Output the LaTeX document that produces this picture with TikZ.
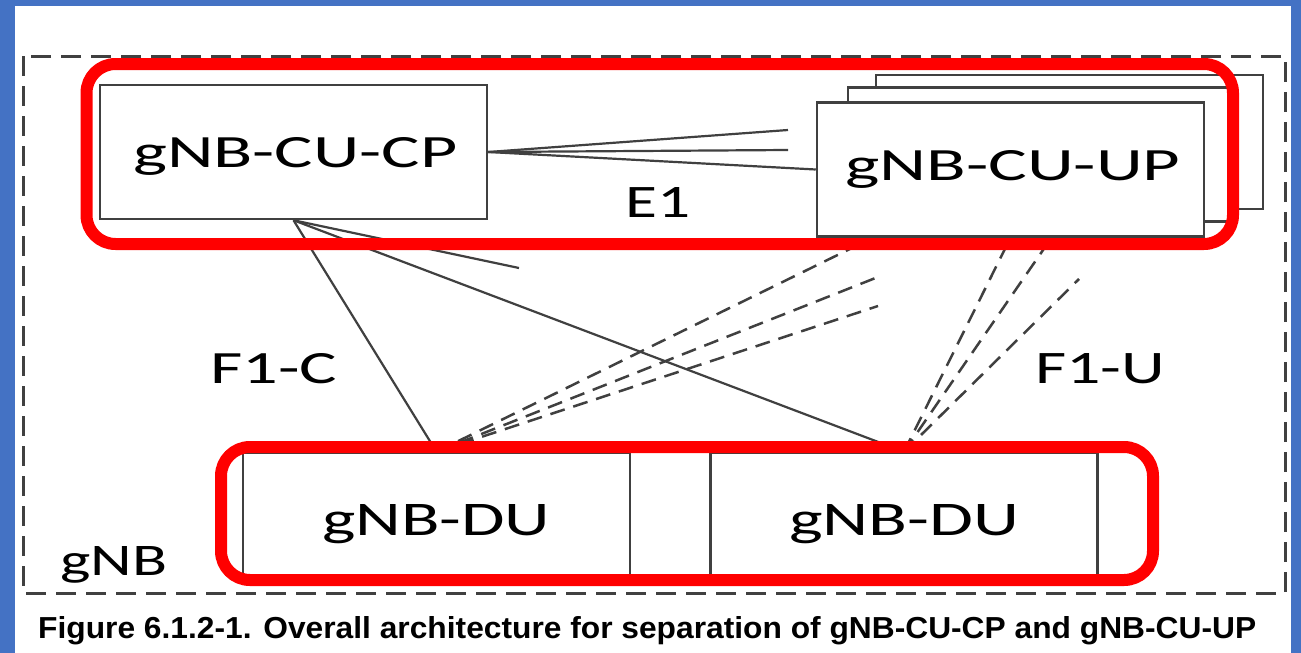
\documentclass[tikz,border=0pt]{standalone}
\usepackage{fontspec}
\usepackage{graphicx}
\setmainfont{Carlito}
\newfontfamily\capfont{Liberation Sans}
\usetikzlibrary{calc}
\definecolor{frameblue}{RGB}{68,114,196}
\definecolor{linegray}{RGB}{64,64,64}
\definecolor{hlred}{RGB}{255,0,0}
\tikzset{
  unitbox/.style={draw=linegray, line width=2.5pt, fill=white, minimum width=387pt, minimum height=134pt, inner sep=0pt},
  dubox/.style={draw=linegray, line width=2.5pt, fill=white, minimum width=387pt, minimum height=122pt, inner sep=0pt},
  link/.style={draw=linegray, line width=2.2pt},
  ulink/.style={draw=linegray, line width=2.5pt, dash pattern=on 15pt off 9pt},
  hlframe/.style={draw=hlred, line width=12pt, rounded corners=29pt},
  gnbframe/.style={draw=linegray, line width=3pt, dash pattern=on 20pt off 10pt},
  lbl/.style={inner sep=0pt, anchor=base west}
}
\begin{document}
\begin{tikzpicture}[x=1pt,y=-1pt]
\useasboundingbox (0,0) rectangle (1301,653);
\fill[white] (0,0) rectangle (1301,653);
% blue frame
\fill[frameblue] (0,0) rectangle (15,653);
\fill[frameblue] (0,0) rectangle (1301,6);
\fill[frameblue] (1291,0) rectangle (1301,653);
% gNB dashed boundary
\draw[gnbframe] (23,56) rectangle (1285,593);
% boxes
\node[unitbox] (cp) at (293.5,152) {};
\node[unitbox] (up3) at (1069.5,142) {};
\node[unitbox] (up2) at (1041.5,154.5) {};
\node[unitbox] (up) at (1010.5,169.5) {};
\node[dubox] (du1) at (436.5,514) {};
\node[dubox] (du2) at (904,514) {};
% free ends
\coordinate (e1a) at (788,130);
\coordinate (e1b) at (788,150);
\coordinate (f1cs) at (519,268);
\coordinate (u1a) at ($(up.south west)+(57,0)$);
\coordinate (u1b) at (878,277);
\coordinate (u1c) at (878,306);
\coordinate (u2b) at ($(up.south)+(41,0)$);
\coordinate (u2c) at (1079,279);
% E1
\draw[link] (cp.east) -- (e1a);
\draw[link] (cp.east) -- (e1b);
\draw[link] (cp.east) -- (up.west);
% F1-C
\draw[link] (cp.south) -- (du1.north);
\draw[link] (cp.south) -- (f1cs);
\draw[link] (cp.south) -- (du2.north);
% F1-U
\draw[ulink] (du1.north) -- (u1a);
\draw[ulink] (du1.north) -- (u1b);
\draw[ulink] (du1.north) -- (u1c);
\draw[ulink] (du2.north) -- (up.south);
\draw[ulink] (du2.north) -- (u2b);
\draw[ulink] (du2.north) -- (u2c);
% highlight frames
\draw[hlframe] (86.5,64) rectangle (1233,244);
\draw[hlframe] (221,447) rectangle (1153,580);
% texts
\node[lbl] (tcp) at (133,167) {\resizebox{324pt}{30pt}{gNB-CU-CP}};
\node[lbl] (tup) at (845,180) {\resizebox{335pt}{30pt}{gNB-CU-UP}};
\node[lbl] (te1) at (625,217) {\resizebox{65pt}{30pt}{E1}};
\node[lbl] (tf1c) at (210,383) {\resizebox{127pt}{30pt}{F1-C}};
\node[lbl] (tf1u) at (1035,383) {\resizebox{130pt}{30pt}{F1-U}};
\node[lbl] (tgnb) at (60,575) {\resizebox{107pt}{29pt}{gNB}};
\node[lbl] (tdu1) at (322,535) {\resizebox{228pt}{31pt}{gNB-DU}};
\node[lbl] (tdu2) at (789,535) {\resizebox{230pt}{31pt}{gNB-DU}};
\node[lbl] (cap) at (38,638) {\resizebox{1218pt}{22pt}{\capfont\bfseries Figure 6.1.2-1. Overall architecture for separation of gNB-CU-CP and gNB-CU-UP}};
\end{tikzpicture}
\end{document}
